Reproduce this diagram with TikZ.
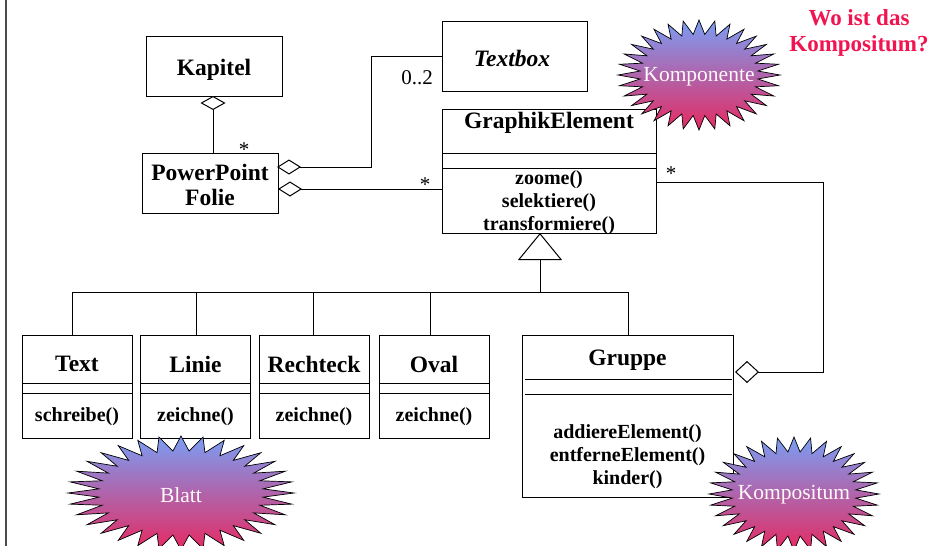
\documentclass[tikz,border=0pt]{standalone}
\usepackage{fontspec}
\usepackage{xcolor}
\setmainfont{Liberation Serif}
\usetikzlibrary{arrows.meta}
\definecolor{burstTop}{HTML}{7A9EF4}
\definecolor{burstBottom}{HTML}{E62A62}
\definecolor{alarmRed}{HTML}{F01450}
\tikzset{
  classbox/.style={draw,line width=1pt,outer sep=0pt,inner sep=0pt},
  classname/.style={font=\fontsize{23.5}{25}\bfseries,align=center,inner sep=0pt},
  methods/.style={font=\fontsize{20}{23}\bfseries,align=center,inner sep=0pt},
  mult/.style={font=\fontsize{21}{22}\selectfont,inner sep=0pt},
  link/.style={line width=1pt},
  aggrdown/.style={link,{Diamond[open,fill=white,length=14pt,width=25pt,line width=1pt]}-},
  aggrflat/.style={link,{Diamond[open,fill=white,length=24pt,width=15pt,line width=1pt]}-},
  aggrwide/.style={link,{Diamond[open,fill=white,length=24pt,width=22pt,line width=1pt]}-},
  inherit/.style={link,-{Triangle[open,fill=white,length=27pt,width=44pt,line width=1pt]}},
  burstlabel/.style={text=white!90!pink,font=\fontsize{21.5}{22}\selectfont,inner sep=0pt}
}
\newcommand{\burst}[4]{% centre x, centre y, radius x, radius y
  \shade[top color=burstTop,bottom color=burstBottom,draw=black,line width=0.7pt]
    plot[samples=65,domain=0:360]
    ({#1+#3*(0.865+0.135*cos(32*\x))*cos(\x)},{#2+#4*(0.87+0.13*cos(32*\x))*sin(\x)}) -- cycle;
}
\begin{document}
\begin{tikzpicture}[x=1pt,y=-1pt]
\useasboundingbox (0,0) rectangle (948,546);
\draw[line width=1.2pt,black!70] (6,0) -- (6,546);

% upper classes
\node[classbox,minimum width=136pt,minimum height=60pt] (kapitel) at (214,66) {};
\node[classname] (kapitelName) at (214,70) {Kapitel};
\node[classbox,minimum width=136pt,minimum height=60pt] (folie) at (210,183) {};
\node[classname] (folieName) at (210,185) {PowerPoint\\Folie};
\node[classbox,minimum width=145pt,minimum height=70pt] (textbox) at (514.5,56) {};
\node[classname,font=\fontsize{23.5}{25}\bfseries\itshape] (textboxName) at (512,58) {Textbox};
\node[classbox,minimum width=214pt,minimum height=124pt] (element) at (549,171) {};
\node[classname] (elementName) at (549,123) {GraphikElement};
\node[methods] (elementOps) at (549,203) {zoome()\\selektiere()\\transformiere()};
\draw[link] (442,153) -- (656,153) (442,168) -- (656,168);

% lower classes
\foreach \name/\cx/\label/\op in {text/77/Text/schreibe(),linie/195.5/Linie/zeichne(),rechteck/314/Rechteck/zeichne(),oval/434/Oval/zeichne()} {
  \node[classbox,minimum width=110pt,minimum height=103pt] (\name) at (\cx,386.5) {};
  \node[classname] (\name Name) at (\cx,364) {\label};
  \node[methods] (\name Op) at (\cx,417) {\op};
  \draw[link] (\name.west |- 0,383) -- (\name.east |- 0,383);
  \draw[link] (\name.west |- 0,393) -- (\name.east |- 0,393);
}
\node[classbox,minimum width=211pt,minimum height=162pt] (gruppe) at (627.5,416) {};
\node[classname] (gruppeName) at (627.5,360) {Gruppe};
\node[methods] (gruppeOps) at (627.5,457) {addiereElement()\\entferneElement()\\kinder()};
\draw[link] (525,379) -- (732,379) (525,394) -- (732,394);

% inheritance
\coordinate (fork) at (540,292);
\draw[inherit] (fork) -- (element.south -| fork);
\draw[link] (72,292) -- (628,292);
\foreach \name/\cx in {text/72,linie/196,rechteck/313,oval/430,gruppe/628} {
  \draw[link] (\cx,292) -- (\name.north -| \cx,0);
}

% aggregations
\coordinate (kapitelFoot) at (213,96);
\draw[aggrdown] (kapitelFoot) -- (folie.north -| kapitelFoot);
\coordinate (folieA) at (277,167);
\coordinate (folieB) at (278,189);
\draw[aggrflat] (folieA) -- (371,167) -- (371,56) -- (textbox.west |- 0,56);
\draw[aggrflat] (folieB) -- (element.west |- folieB);
\coordinate (gruppeRight) at (735,372);
\draw[aggrwide] (gruppeRight) -- (823,372) -- (823,182) -- (element.east |- 0,182);

% multiplicities
\node[mult] (multFolie) at (244,150) {*};
\node[mult] (multElementA) at (425,185) {*};
\node[mult] (multElementB) at (671,174) {*};
\node[mult] (multTextbox) at (417,78) {0..2};

% bursts
\burst{699}{75}{81}{55}
\node[burstlabel] (burstKomponente) at (699,77) {Komponente};
\burst{181}{493}{113}{57}
\node[burstlabel] (burstBlatt) at (181,495) {Blatt};
\burst{794}{494}{85}{57}
\node[burstlabel] (burstKompositum) at (794,495) {Kompositum};

\node[classname,text=alarmRed,font=\fontsize{23}{26}\bfseries] (question) at (859,33) {Wo ist das\\Kompositum?};
\end{tikzpicture}
\end{document}
